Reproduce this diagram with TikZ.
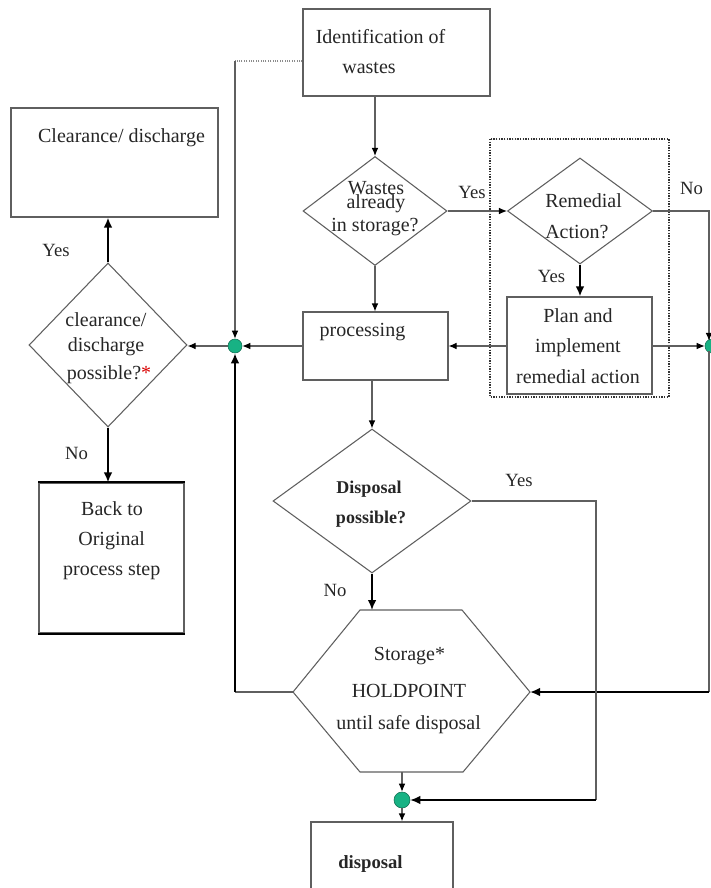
\documentclass[tikz,border=0pt]{standalone}
\usepackage{fontspec}
\setmainfont{Liberation Serif}
\usetikzlibrary{arrows.meta,shapes.geometric}
\definecolor{junction}{RGB}{24,178,132}
\definecolor{edgegray}{RGB}{95,95,95}
\definecolor{inkgray}{RGB}{38,38,38}
\begin{document}
\begin{tikzpicture}[x=0.75pt,y=-0.75pt,
  outline/.style={draw=edgegray, line width=0.8pt, inner sep=0pt},
  boxnode/.style={outline, rectangle},
  dianode/.style={outline, diamond},
  junct/.style={circle, fill=junction, draw=junction!60!black, line width=0.4pt, inner sep=0pt, minimum size=#1},
  junct/.default=10.5pt,
  txt/.style={anchor=base, text=inkgray, inner sep=0pt, font=\fontsize{15}{18}\selectfont},
  txtb/.style={txt, font=\fontsize{13.5}{16}\selectfont\bfseries},
  lbl/.style={txt, font=\fontsize{14}{16}\selectfont},
  flow/.style={draw=edgegray, line width=0.8pt},
  flowarrow/.style={flow, -{Latex[length=6pt,width=5pt,color=black]}},
  heavy/.style={draw=black, line width=1.5pt},
  heavyarrow/.style={heavy, -{Latex[length=7.5pt,width=6.5pt]}},
  dotline/.style={draw=black!45, line width=0.8pt, densely dotted}]

\useasboundingbox (0,0) rectangle (710,888);

% ---------- shapes ----------
\node[boxnode, minimum width=140.25pt, minimum height=65.25pt] (ident) at (396.5,52.5) {};
\node[dianode, minimum width=108pt, minimum height=81.75pt] (wastes) at (375,211) {};
\node[dianode, minimum width=108.75pt, minimum height=79.5pt] (remedial) at (580,211) {};
\node[boxnode, minimum width=108.75pt, minimum height=72.75pt] (plan) at (579.5,345.5) {};
\node[boxnode, minimum width=108.75pt, minimum height=51pt] (proc) at (375.5,346) {};
\node[boxnode, minimum width=155.25pt, minimum height=81.75pt] (cbox) at (114.5,162.5) {};
\node[dianode, minimum width=118.5pt, minimum height=123pt] (cdia) at (108,345) {};
\node[boxnode, minimum width=108.75pt, minimum height=112.5pt] (back) at (111.5,558) {};
\node[dianode, minimum width=148.5pt, minimum height=108pt] (disp) at (372,501) {};
\node[boxnode, minimum width=106.5pt, minimum height=50.25pt] (dbox) at (382,855.5) {};

% heavier top and bottom rules of the return box
\draw[heavy] (back.north west) -- (back.north east);
\draw[heavy] (back.south west) -- (back.south east);

% storage hexagon
\coordinate (hexTL) at (360,610);
\coordinate (hexTR) at (462,610);
\coordinate (hexR)  at (530,692);
\coordinate (hexBR) at (463,772);
\coordinate (hexBL) at (360,772);
\coordinate (hexL)  at (293,692);
\coordinate (hexB)  at (402,772);
\draw[outline] (hexTL) -- (hexTR) -- (hexR) -- (hexBR) -- (hexBL) -- (hexL) -- cycle;

% dotted frame around the remedial branch
\draw[black!80, densely dotted, line width=1pt] (490,139) rectangle (669,397);

% junction dots
\node[junct] (cL) at (235,346) {};
\node[junct] (cR) at (712,346) {};
\node[junct=12pt] (cB) at (402,800) {};

% ---------- texts ----------
\node[txt] (tIdA) at (380.5,44) {Identification of};
\node[txt] (tIdB) at (369,74) {wastes};
\node[txt] (tWaA) at (376,195) {Wastes};
\node[txt] (tWaB) at (376,208) {already};
\node[txt] (tWaC) at (375,231) {in storage?};
\node[txt, anchor=base west] (tReA) at (545,207.5) {Remedial};
\node[txt, anchor=base west] (tReB) at (545,238) {Action?};
\node[txt] (tPlA) at (578,322) {Plan and};
\node[txt] (tPlB) at (578,352.5) {implement};
\node[txt] (tPlC) at (578,383) {remedial action};
\node[txt] (tPro) at (362.5,336) {processing};
\node[txt] (tClr) at (121.5,143) {Clearance/ discharge};
\node[txt] (tCdA) at (106,326) {clearance/};
\node[txt] (tCdB) at (106,351) {discharge};
\node[txt] (tCdC) at (109,379) {possible?{\color{red!85!black}*}};
\node[txt] (tBkA) at (112,515.5) {Back to};
\node[txt] (tBkB) at (111.7,545) {Original};
\node[txt] (tBkC) at (111.7,575) {process step};
\node[txtb] (tDiA) at (369,493) {Disposal};
\node[txtb] (tDiB) at (371,523) {possible?};
\node[txt] (tStA) at (409.5,660) {Storage*};
\node[txt] (tStB) at (409,697) {HOLDPOINT};
\node[txt] (tStC) at (408.7,729) {until safe disposal};
\node[txtb, font=\fontsize{14}{16}\selectfont\bfseries] (tDsp) at (370.5,868) {disposal};

% branch labels
\node[lbl] (yWa) at (472,198) {Yes};
\node[lbl] (yRe) at (551.5,282.5) {Yes};
\node[lbl] (nRe) at (691.5,195) {No};
\node[lbl] (yCd) at (56,256.5) {Yes};
\node[lbl] (nCd) at (76.5,459) {No};
\node[lbl] (yDi) at (519,486.5) {Yes};
\node[lbl] (nDi) at (335,596) {No};

% ---------- connectors ----------
\draw[flowarrow] (ident.south -| wastes.north) -- (wastes.north);
\coordinate (dotend) at (235,61);
\draw[dotline] (ident.west) ++(0,8.5) -- (dotend);
\draw[flowarrow] (dotend) -- (cL.north);
\draw[flowarrow] (wastes.east) -- (remedial.west);
\draw[flowarrow] (wastes.south) -- (wastes.south |- proc.north);
\draw[heavyarrow] (remedial.south) -- (remedial.south |- plan.north);
\draw[flowarrow] (plan.west |- proc.east) -- (proc.east);
\draw[flowarrow] (proc.west) -- (cL.east);
\draw[flowarrow] (cL.west) -- (cL.west -| cdia.east);
\draw[heavyarrow] (cdia.north) -- (cdia.north |- cbox.south);
\draw[heavyarrow] (cdia.south) -- (cdia.south |- back.north);

\coordinate (rtop) at (709,211);
\coordinate (rbot) at (709,692);
\draw[flowarrow] (remedial.east) -- (rtop) -- (rtop |- cR.north west);
\draw[flowarrow] (plan.east |- cR.west) -- (cR.west);
\draw[flow] (rtop |- cR.south west) -- (rbot);
\draw[heavyarrow] (rbot) -- (hexR);

\draw[flowarrow] (disp.north |- proc.south) -- (disp.north);
\draw[heavyarrow, line width=1.2pt] (disp.south) -- (disp.south |- hexTL);

\coordinate (lcorner) at (235,692);
\draw[flow] (hexL) -- (lcorner);
\draw[heavyarrow] (lcorner) -- (cL.south);

\coordinate (ycorner) at (596,800);
\draw[flow] (disp.east) -| (ycorner);
\draw[heavyarrow, line width=1.2pt] (ycorner) -- (cB.east);
\draw[flowarrow] (hexB) -- (cB.north);
\draw[flowarrow, line width=1.1pt] (cB.south) -- (cB.south |- dbox.north);

\end{tikzpicture}
\end{document}
